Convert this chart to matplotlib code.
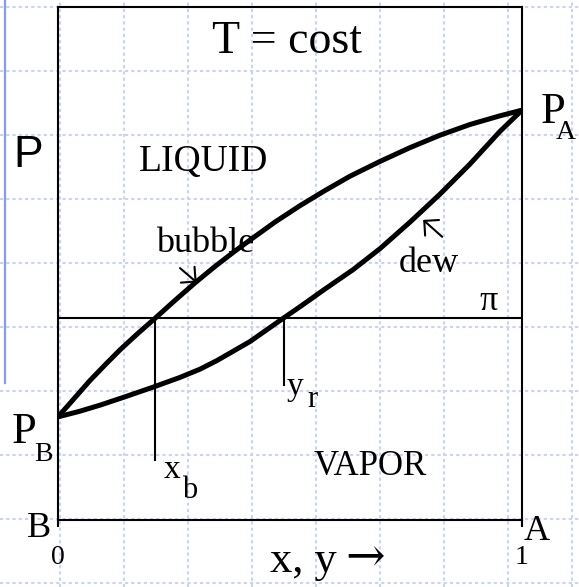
import matplotlib
matplotlib.use("Agg")
import matplotlib.pyplot as plt

# bubble and dew curves (x, y in mole fraction; P normalised to the box height)
bubble_x = [0.0, 0.037, 0.069, 0.101, 0.134, 0.170, 0.209, 0.252, 0.295, 0.338, 0.381,
            0.425, 0.468, 0.522, 0.575, 0.629, 0.694, 0.759, 0.823, 0.888, 0.953, 1.0]
bubble_p = [0.201, 0.239, 0.272, 0.302, 0.332, 0.362, 0.393, 0.428, 0.462, 0.494, 0.524,
            0.553, 0.581, 0.613, 0.642, 0.670, 0.699, 0.726, 0.750, 0.771, 0.788, 0.799]
dew_x = [0.0, 0.047, 0.091, 0.144, 0.205, 0.263, 0.306, 0.343, 0.414, 0.485,
         0.522, 0.575, 0.636, 0.694, 0.759, 0.823, 0.888, 0.953, 1.0]
dew_p = [0.201, 0.212, 0.224, 0.240, 0.259, 0.278, 0.294, 0.311, 0.348, 0.393,
         0.416, 0.450, 0.488, 0.529, 0.581, 0.635, 0.694, 0.758, 0.799]
pi_p = 0.394
x_b = 0.209
y_r = 0.487

serif = "Liberation Serif"
fig = plt.figure(figsize=(5.79, 5.87), dpi=100)

# background dotted grid in pixel coordinates
bg = fig.add_axes([0, 0, 1, 1])
bg.set_xlim(0, 579)
bg.set_ylim(587, 0)
bg.axis("off")
for gx in range(-4, 579, 64):
    bg.axvline(gx, color="#c9d3f3", lw=1.5, ls=(0, (1.5, 1.5)))
for gy in range(7, 587, 64):
    bg.axhline(gy, color="#c9d3f3", lw=1.5, ls=(0, (1.5, 1.5)))
bg.plot([5, 5], [0, 383], color="#8a9af0", lw=1.6)

ax = fig.add_axes([58 / 579, 67 / 587, 464 / 579, 513 / 587])
ax.set_facecolor("none")
ax.set_xlim(0, 1)
ax.set_ylim(0, 1)
for s in ax.spines.values():
    s.set_linewidth(1.5)
ax.set_yticks([])
ax.set_xticks([0, 1])
ax.set_xticklabels(["0", "1"], fontsize=20, family=serif)
ax.tick_params(axis="x", direction="out", length=5, width=1.5, pad=13)

ax.plot(bubble_x, bubble_p, color="black", lw=3.6, solid_capstyle="round")
ax.plot(dew_x, dew_p, color="black", lw=3.6, solid_capstyle="round")
ax.axhline(pi_p, color="black", lw=1.5)
ax.plot([x_b, x_b], [pi_p, 0.117], color="black", lw=1.5)
ax.plot([y_r, y_r], [pi_p, 0.263], color="black", lw=1.5)

arrow = dict(arrowstyle="->, head_length=0.5, head_width=0.5", lw=1.5,
             color="black", mutation_scale=15, shrinkA=0, shrinkB=0)
ax.annotate("", xy=(0.299, 0.463), xytext=(0.263, 0.491), arrowprops=arrow)
ax.annotate("", xy=(0.787, 0.585), xytext=(0.828, 0.552), arrowprops=arrow)

# labels (pixel positions on the background axes)
def lab(x, y, s, size, ha="left", family=serif):
    bg.text(x, y, s, fontsize=size, ha=ha, va="baseline", family=family)

lab(287, 53, "T = cost", 33, ha="center")
lab(13, 167, "P", 32, family="Liberation Sans")
lab(139, 171, "LIQUID", 27)
lab(156, 252, "bubble", 26)
lab(399, 272, "dew", 26)
lab(479, 310, "π", 26)
lab(541, 123, "P", 32)
lab(556, 139, "A", 20)
lab(12, 443, "P", 32)
lab(34, 461, "B", 20)
lab(164, 478, "x", 24)
lab(182, 498, "b", 22)
lab(287, 395, "y", 24)
lab(307, 407, "r", 22)
lab(314, 475, "VAPOR", 25)
lab(51, 537, "B", 26, ha="right")
lab(524, 540, "A", 26)
lab(270, 572, "x, y", 32)
lab(345, 572, "→", 34, family="DejaVu Serif")

fig.savefig("out.png", dpi=100)
